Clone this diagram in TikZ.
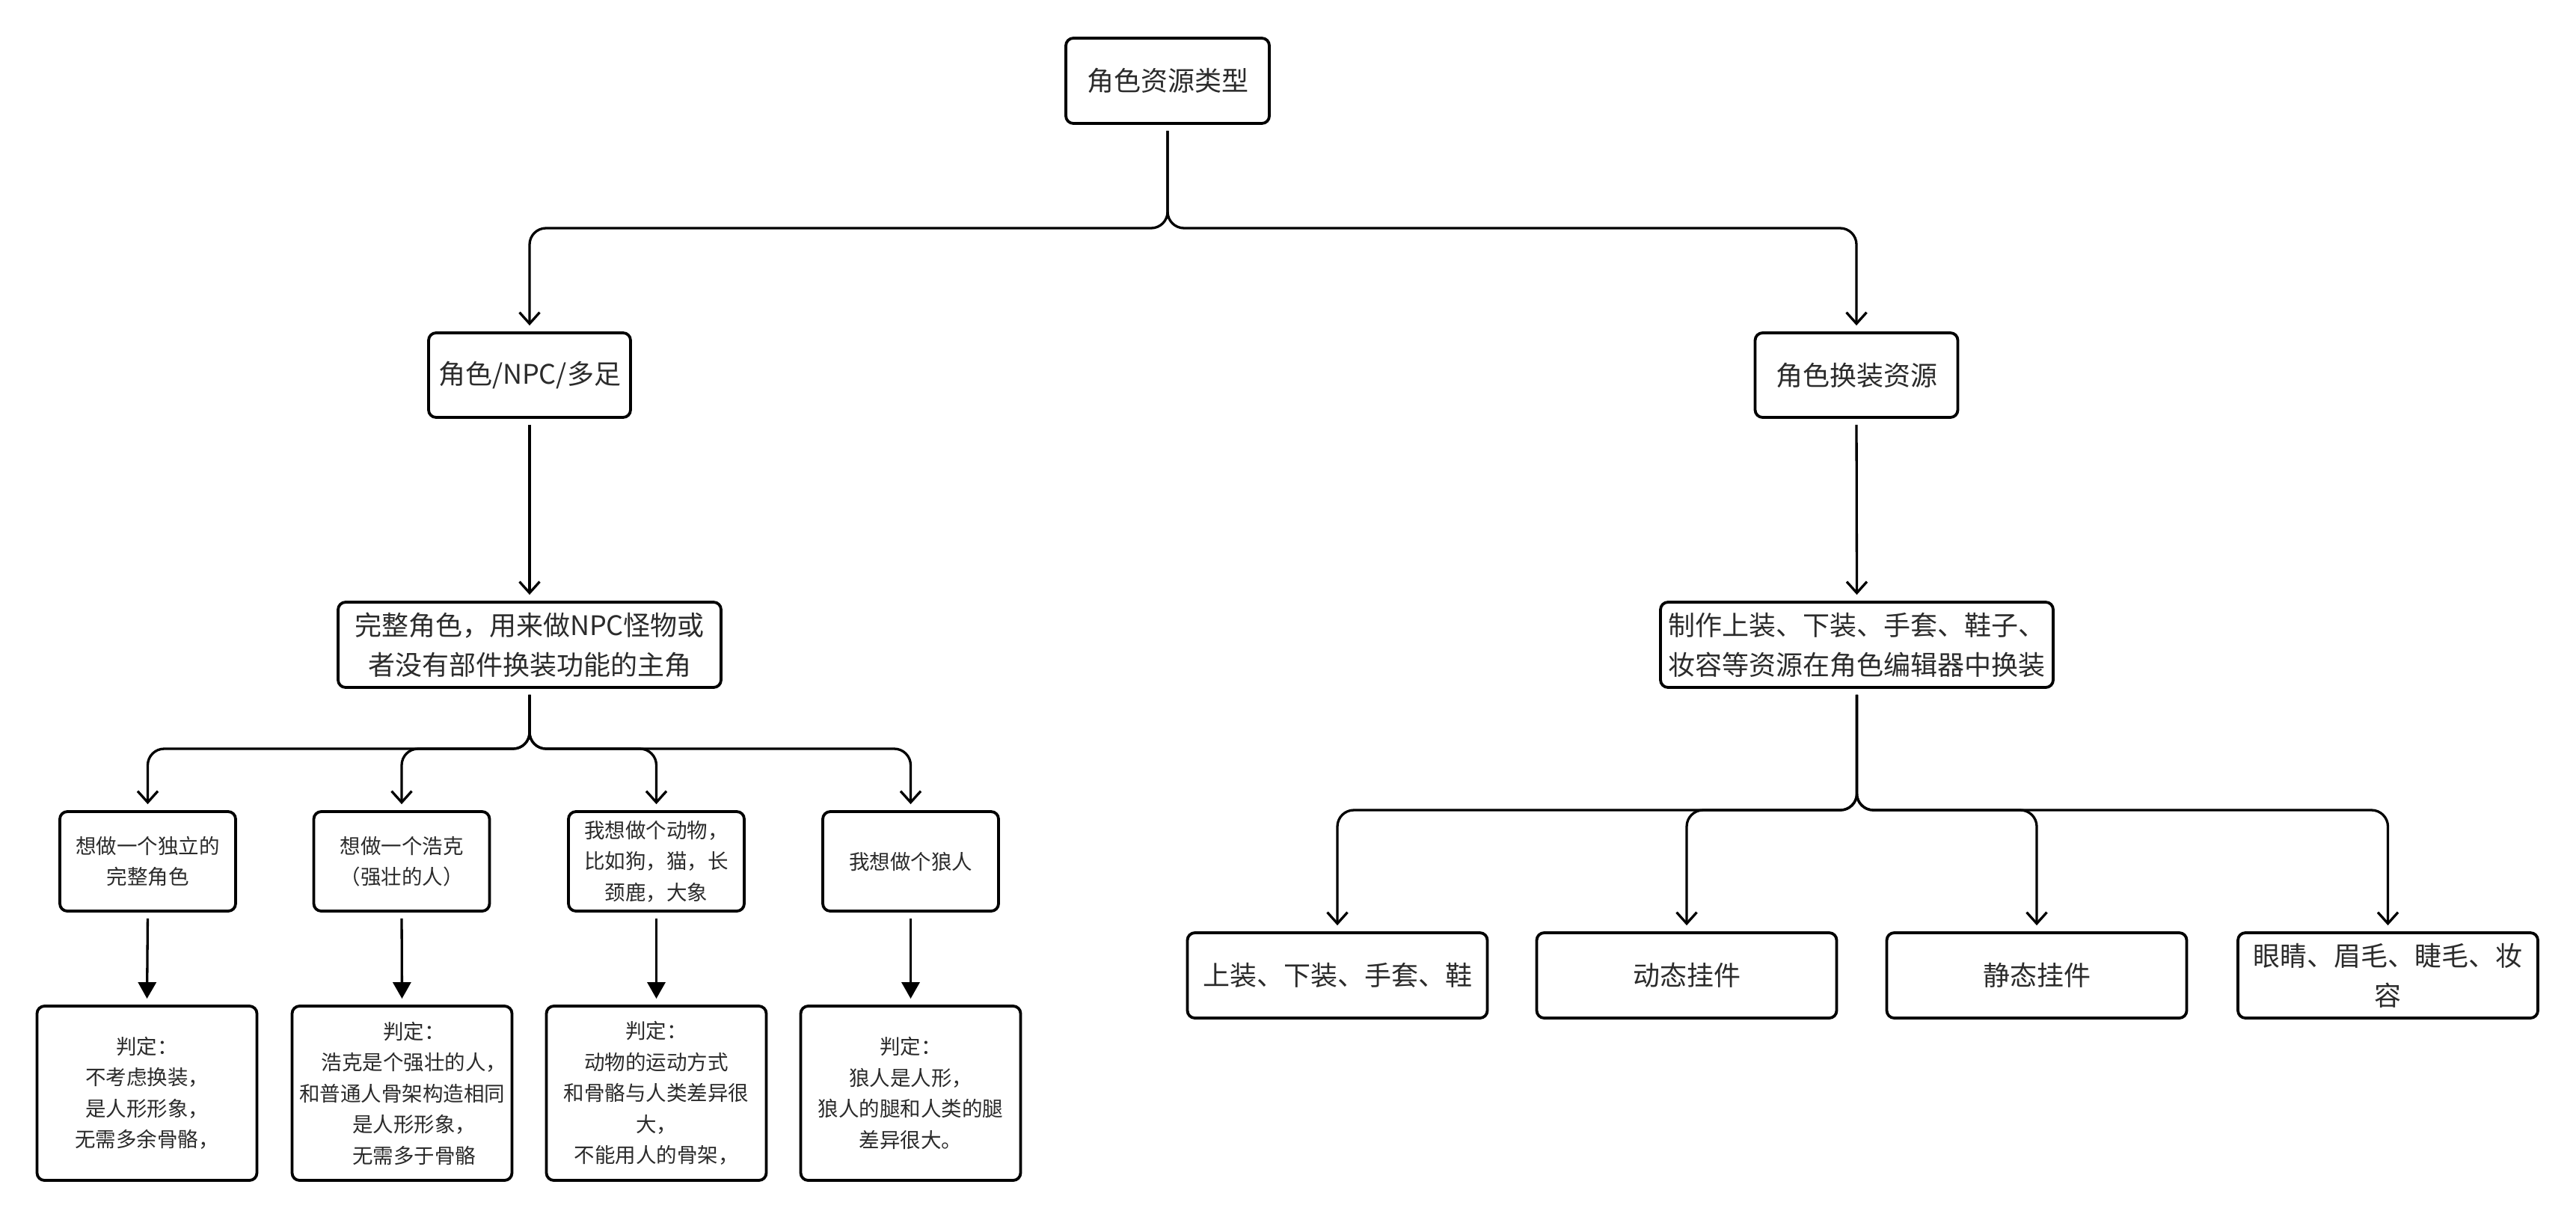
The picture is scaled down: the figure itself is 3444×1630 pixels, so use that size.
\documentclass[tikz,border=0pt]{standalone}
\usepackage{fontspec}
\setmainfont{Noto Sans CJK SC}
\usetikzlibrary{arrows.meta}
\definecolor{txt}{HTML}{2B2B2B}
\begin{document}
\begin{tikzpicture}[x=1pt,y=-1pt,
  box/.style={draw=black, line width=3.8pt, rounded corners=10pt, fill=white, align=center, text=txt, inner sep=0pt},
  big/.style={font=\fontsize{36}{53}\selectfont},
  small/.style={font=\fontsize{27.5}{41.5}\selectfont},
  conn/.style={line width=3.3pt, rounded corners=22pt, shorten <=8pt, shorten >=8pt, -{Straight Barb[length=15pt,width=27pt]}},
  fconn/.style={line width=3.3pt, shorten <=8pt, shorten >=8pt, -{Triangle[length=22pt,width=24pt]}}
]
\fill[white] (0,0) rectangle (3444,1630);
\useasboundingbox (0,0) rectangle (3444,1630);

% level 1
\node[box,big,minimum width=272pt,minimum height=114pt] (root) at (1561,108) {角色资源类型};
% level 2
\node[box,big,minimum width=270pt,minimum height=113pt] (npc) at (708,501.5) {角色/NPC/多足};
\node[box,big,minimum width=271pt,minimum height=113pt] (dress) at (2482,501.5) {角色换装资源};
% level 3
\node[box,big,minimum width=512pt,minimum height=114pt] (full) at (708,862) {完整角色，用来做NPC怪物或\\者没有部件换装功能的主角};
\node[box,big,minimum width=525pt,minimum height=114pt] (make) at (2482.5,862) {制作上装、下装、手套、鞋子、\\妆容等资源在角色编辑器中换装};
% level 4 left
\node[box,small,minimum width=235pt,minimum height=133pt] (a1) at (197.5,1151.5) {想做一个独立的\\完整角色};
\node[box,small,minimum width=235pt,minimum height=133pt] (a2) at (537,1151.5) {想做一个浩克\\（强壮的人）};
\node[box,small,minimum width=235pt,minimum height=133pt] (a3) at (877.5,1151.5) {我想做个动物，\\比如狗，猫，长\\颈鹿，大象};
\node[box,small,minimum width=235pt,minimum height=133pt] (a4) at (1217.5,1151.5) {我想做个狼人};
% level 5 left
\node[box,small,minimum width=294pt,minimum height=233pt] (b1) at (196.5,1461.5) {判定：\\不考虑换装，\\是人形形象，\\无需多余骨骼，};
\node[box,small,minimum width=294pt,minimum height=233pt] (b2) at (537.5,1461.5) {\hspace*{32pt}判定：\\\hspace*{32pt}浩克是个强壮的人，\\和普通人骨架构造相同\\\hspace*{32pt}是人形形象，\\\hspace*{32pt}无需多于骨骼};
\node[box,small,minimum width=294pt,minimum height=233pt] (b3) at (877.5,1461.5) {判定：\\动物的运动方式\\和骨骼与人类差异很\\大，\\不能用人的骨架，};
\node[box,small,minimum width=294pt,minimum height=233pt] (b4) at (1217.5,1461.5) {判定：\\狼人是人形，\\狼人的腿和人类的腿\\差异很大。};
% level 4 right
\node[box,big,minimum width=401pt,minimum height=114pt] (c1) at (1788,1304) {上装、下装、手套、鞋};
\node[box,big,minimum width=401pt,minimum height=114pt] (c2) at (2255,1304) {动态挂件};
\node[box,big,minimum width=401pt,minimum height=114pt] (c3) at (2723,1304) {静态挂件};
\node[box,big,minimum width=401pt,minimum height=114pt] (c4) at (3192.5,1304) {眼睛、眉毛、睫毛、妆\\容};

% junction levels
\coordinate (j0) at (0,305);
\coordinate (j1) at (0,1001);
\coordinate (j2) at (0,1083);

\draw[conn] (root.south) -- (root.south |- j0) -| (npc.north);
\draw[conn] (root.south) -- (root.south |- j0) -| (dress.north);
\draw[conn] (npc.south) -- (full.north);
\draw[conn] (dress.south) -- (make.north);
\foreach \i in {1,2,3,4} {
  \draw[conn] (full.south) -- (full.south |- j1) -| (a\i.north);
  \draw[fconn] (a\i.south) -- (b\i.north);
  \draw[conn] (make.south) -- (make.south |- j2) -| (c\i.north);
}
\end{tikzpicture}
\end{document}
